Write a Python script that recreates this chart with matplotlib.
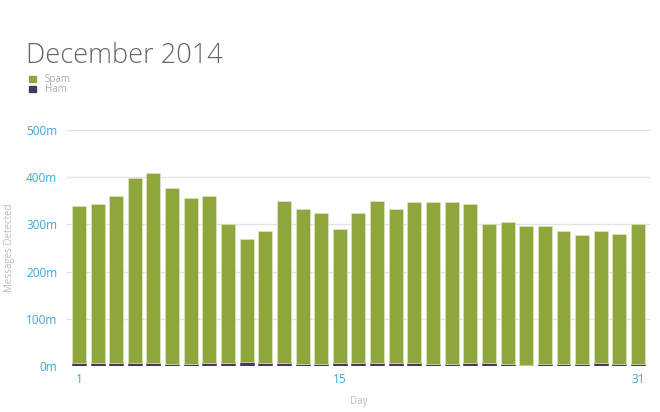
import matplotlib
matplotlib.use('Agg')
import matplotlib.pyplot as plt
from matplotlib.patches import Rectangle

days = list(range(1, 32))
spam = [332, 337, 354, 392, 403, 373, 351, 354, 294, 261, 279, 343, 327, 319, 285, 318,
        344, 327, 341, 343, 343, 337, 295, 301, 294, 291, 282, 273, 280, 274, 296]
ham = [6, 6, 6, 6, 6, 4, 4, 6, 7, 8, 7, 6, 5, 5, 6, 6,
       6, 6, 6, 5, 5, 6, 6, 5, 3, 5, 5, 5, 6, 5, 5]
tick_days = [1, 15, 31]
y_ticks = [0, 100, 200, 300, 400, 500]

spam_color = '#8fa63c'
ham_color = '#45385a'
blue = '#3aa6dc'

plt.rcParams['font.family'] = ['Open Sans', 'DejaVu Sans']

fig = plt.figure(figsize=(6.6, 4.12), dpi=100)
ax = fig.add_axes([0.1015, 0.1117, 0.885, 0.5728])

ax.bar(days, ham, width=0.75, color=ham_color, edgecolor=ham_color, linewidth=0.4, zorder=3)
ax.bar(days, spam, bottom=ham, width=0.75, color=spam_color, edgecolor='#dfe6c8', linewidth=0.5, zorder=3)

ax.set_xlim(0.36, 31.7)
ax.set_ylim(0, 500)
ax.set_yticks(y_ticks)
ax.set_yticklabels(['%dm' % v for v in y_ticks])
ax.set_xticks(tick_days)
ax.tick_params(axis='both', length=0, colors=blue, labelsize=8.5)
ax.tick_params(axis='y', pad=7)
ax.tick_params(axis='x', pad=5)
ax.grid(axis='y', color='#e3e3e3', linewidth=1, zorder=0)
for s in ax.spines.values():
    s.set_visible(False)

ax.set_ylabel('Messages Detected', color='#bbbbbb', fontsize=7, labelpad=8)
ax.set_xlabel('Day', color='#bbbbbb', fontsize=7, labelpad=7)

fig.text(0.039, 0.847, 'December 2014', fontsize=19.5, color='#666666', fontweight='light')

# legend
fig.patches.append(Rectangle((0.044, 0.8), 0.0105, 0.016, transform=fig.transFigure, color=spam_color))
fig.patches.append(Rectangle((0.044, 0.776), 0.0105, 0.016, transform=fig.transFigure, color=ham_color))
fig.text(0.068, 0.808, 'Spam', fontsize=7, color='#aaaaaa', va='center')
fig.text(0.068, 0.783, 'Ham', fontsize=7, color='#aaaaaa', va='center')

fig.savefig('out.png', dpi=100)
